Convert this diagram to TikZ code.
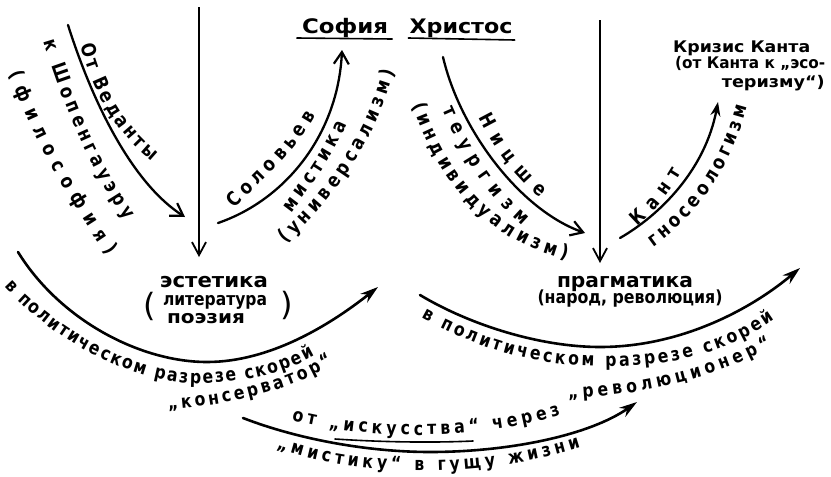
\documentclass[tikz,border=0pt]{standalone}
\usepackage{fontspec}
\usepackage{graphicx}
\usetikzlibrary{arrows.meta,decorations.text}
\newfontfamily\hand{DejaVu Sans}[FakeStretch=0.85]
\newfontfamily\handw{DejaVu Sans}
\newcommand\fitw[2]{\resizebox{#1}{\height}{#2}}
\newcommand\lf[1]{\handw\bfseries\fontsize{#1}{#1}\selectfont}
\tikzset{
  conn/.style={line width=2.3pt, line cap=round},
  vconn/.style={line width=1.8pt, -{Straight Barb[length=13pt,width=14pt,line width=1.8pt]}},
  barb/.style={-{Straight Barb[length=12pt,width=15pt,line width=2.2pt]}},
  stealthtip/.style={-{Stealth[length=14pt,width=10pt]}},
  bigconn/.style={line width=2.6pt, line cap=round, -{Stealth[length=18pt,width=11pt]}},
  uline/.style={line width=1.6pt, line cap=round},
  lbl/.style={inner sep=0pt, anchor=base},
  ptext/.style={decorate, decoration={text along path, text align={fit to path}, raise=-5.3pt, text={#1}}},
}
\begin{document}
\begin{tikzpicture}[x=1pt,y=1pt]
\fill[white] (0,0) rectangle (831,-477);
\useasboundingbox (0,0) rectangle (831,-477);

% end points
\coordinate (vL1) at (199,-7);   \coordinate (vL2) at (199,-257);
\coordinate (vR1) at (600,-20);  \coordinate (vR2) at (600,-263);
\coordinate (ved1) at (68,-25);  \coordinate (ved2) at (185,-217);
\coordinate (sol1) at (218,-223);\coordinate (sol2) at (342,-50);
\coordinate (nie1) at (443,-57); \coordinate (nie2) at (585,-233);
\coordinate (kan1) at (620,-238);\coordinate (kan2) at (718,-102);
\coordinate (L1) at (18,-252);   \coordinate (Lm) at (207,-362);  \coordinate (L2) at (378,-287);
\coordinate (R1) at (420,-295);  \coordinate (Rm) at (600,-347);  \coordinate (R2) at (800,-268);
\coordinate (B1) at (243,-418);  \coordinate (Bm) at (430,-452);  \coordinate (B2) at (637,-402);

% labels (nodes)
\node[lbl] (sof) at (345,-33) {\lf{20}\fitw{86pt}{София}};
\node[lbl] (chr) at (461,-33) {\lf{20}\fitw{103pt}{Христос}};
\draw[uline] ([xshift=-5pt,yshift=-5pt]sof.base west) -- ([xshift=4pt,yshift=-6pt]sof.base east);
\draw[uline] ([xshift=-1pt,yshift=-5pt]chr.base west) -- ([xshift=2pt,yshift=-7pt]chr.base east);

\node[lbl] (est1) at (214,-287) {\lf{20}\fitw{108pt}{эстетика}};
\node[lbl] (est2) at (215,-305) {\lf{18}\fitw{104pt}{литература}};
\node[lbl] (est3) at (206,-323) {\lf{18}\fitw{78pt}{поэзия}};
\node[inner sep=0pt] (lpar) at (150,-306) {\handw\fontsize{32}{32}\selectfont (};
\node[inner sep=0pt] (rpar) at (287,-305) {\handw\fontsize{32}{32}\selectfont )};

\node[lbl] (pr1) at (625,-287) {\lf{20}\fitw{136pt}{прагматика}};
\node[lbl] (pr2) at (630,-303) {\lf{18}\fitw{185pt}{(народ, революция)}};

\node[lbl, anchor=base west] (kr1) at (673,-52) {\lf{16}\fitw{137pt}{Кризис Канта}};
\node[lbl, anchor=base west] (kr2) at (675,-68) {\lf{16}\fitw{150pt}{(от Канта к „эсо-}};
\node[lbl, anchor=base east] (kr3) at (825,-87) {\lf{16}\fitw{103pt}{теризму“)}};

% connectors
\draw[vconn] (vL1) -- (vL2);
\draw[vconn] (vR1) -- (vR2);
\draw[conn,barb] (ved1) .. controls (95,-110) and (135,-185) .. (ved2);
\draw[conn,barb] (sol1) .. controls (285,-200) and (338,-135) .. (sol2);
\draw[conn,barb] (nie1) .. controls (460,-130) and (520,-210) .. (nie2);
\draw[conn,stealthtip] (kan1) .. controls (660,-215) and (705,-170) .. (kan2);
\draw[bigconn] (L1) .. controls (60,-320) and (140,-362) .. (Lm) .. controls (270,-362) and (330,-325) .. (L2);
\draw[bigconn] (R1) .. controls (470,-325) and (540,-347) .. (Rm) .. controls (680,-347) and (750,-310) .. (R2);
\draw[bigconn] (B1) .. controls (300,-440) and (370,-452) .. (Bm) .. controls (510,-452) and (590,-435) .. (B2);

% texts along the upper connectors
{\hand\bfseries\fontsize{19.5}{19.5}\selectfont
\path[ptext={От Веданты}] (86,-44) .. controls (100,-95) and (120,-128) .. (155,-157);
\path[ptext={к Шопенгауэру}] (49,-40) .. controls (70,-110) and (100,-175) .. (130,-217);
\path[ptext={(философия)}] (14,-72) .. controls (40,-140) and (75,-200) .. (112,-253);
\path[ptext={Соловьев}] (231,-205) .. controls (260,-175) and (290,-150) .. (311,-113);
\path[ptext={мистика}] (287,-210) .. controls (310,-180) and (330,-150) .. (342,-122);
\path[ptext={(универсализм)}] (282,-240) .. controls (336,-190) and (371,-135) .. (389,-70);
\path[ptext={Ницше}] (483,-115) .. controls (498,-145) and (517,-172) .. (544,-194);
\path[ptext={теургизм}] (447,-107) .. controls (470,-160) and (490,-190) .. (526,-222);
\path[ptext={(индивидуализм)}] (417,-104) .. controls (444,-180) and (490,-236) .. (568,-254);
\path[ptext={Кант}] (634,-223) .. controls (652,-207) and (665,-190) .. (677,-170);
\path[ptext={гносеологизм}] (650,-243) .. controls (690,-215) and (725,-170) .. (742,-105);
}
% texts along the lower arcs
{\hand\bfseries\fontsize{18.5}{18.5}\selectfont
\path[ptext={в политическом разрезе скорей}] (8,-283) .. controls (60,-340) and (140,-380) .. (205,-378) .. controls (250,-376) and (282,-368) .. (312,-351);
\path[ptext={„консерватор“}] (168,-404) .. controls (230,-400) and (290,-385) .. (331,-359);
\path[ptext={в политическом разрезе скорей}] (424,-313) .. controls (490,-350) and (550,-362) .. (610,-361) .. controls (680,-360) and (730,-345) .. (772,-315);
\path[ptext={„революционер“}] (568,-393) .. controls (640,-390) and (710,-375) .. (769,-342);
\path[ptext={от „искусства“ через}] (293,-415) .. controls (360,-433) and (470,-438) .. (559,-410);
\path[ptext={„мистику“ в гущу жизни}] (278,-443) .. controls (350,-469) and (470,-477) .. (579,-442);
}
\draw[uline] (335,-439) .. controls (380,-442) and (430,-443) .. (473,-441);
\end{tikzpicture}
\end{document}
